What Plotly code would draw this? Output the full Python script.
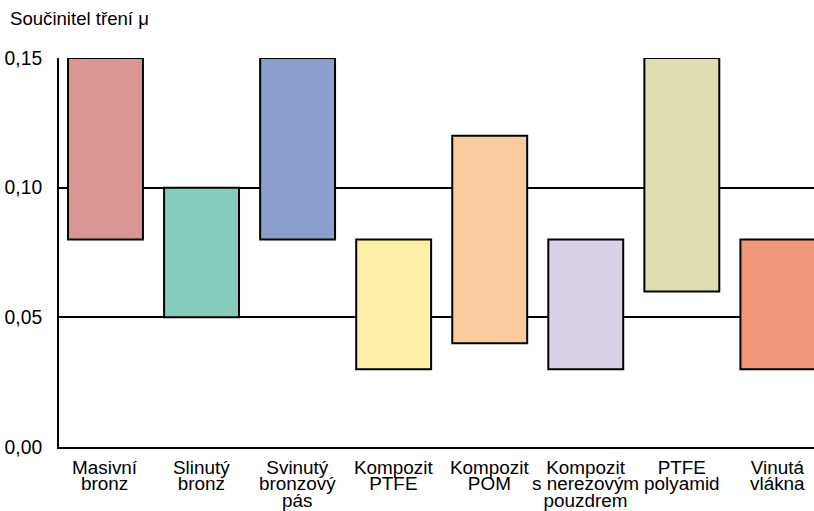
import plotly.graph_objects as go

categories = ["Masivní<br>bronz", "Slinutý<br>bronz", "Svinutý<br>bronzový<br>pás",
              "Kompozit<br>PTFE", "Kompozit<br>POM", "Kompozit<br>s nerezovým<br>pouzdrem",
              "PTFE<br>polyamid", "Vinutá<br>vlákna"]
low_values = [0.08, 0.05, 0.08, 0.03, 0.04, 0.03, 0.06, 0.03]
high_values = [0.15, 0.10, 0.15, 0.08, 0.12, 0.08, 0.15, 0.08]
colors = ["#D99593", "#86CCBD", "#8C9FCC", "#FDF0A6", "#F9CB9E", "#D9D1E6", "#E0DEB0", "#F0977A"]
tick_vals = [0.0, 0.05, 0.10, 0.15]
tick_text = ["0,00", "0,05", "0,10", "0,15"]

heights = [h - l for h, l in zip(high_values, low_values)]
xs = list(range(len(categories)))

fig = go.Figure(go.Bar(
    x=xs, y=heights, base=low_values,
    marker=dict(color=colors, line=dict(color="black", width=2)),
    width=0.78, hoverinfo="skip",
))

font = "Liberation Sans, Arial, sans-serif"
label_size = 18.9
annotations = [dict(text="Součinitel tření μ", xref="paper", yref="paper",
                    x=0, y=1, xanchor="left", yanchor="middle",
                    xshift=-51, yshift=40, showarrow=False,
                    font=dict(family=font, size=18.6, color="black"))]
for i, cat in enumerate(categories):
    text = "<br>".join(f"<span style='font-size:{label_size}px'>{ln}</span>"
                       for ln in cat.split("<br>"))
    annotations.append(dict(text=text, xref="x", yref="paper", x=i, y=0,
                            xanchor="center", yanchor="top",
                            yshift=-8, showarrow=False,
                            font=dict(family=font, size=12.6, color="black")))

fig.update_layout(
    width=814, height=511,
    margin=dict(l=59, r=0, t=58, b=64),
    paper_bgcolor="white", plot_bgcolor="white",
    showlegend=False,
    font=dict(family=font, size=18, color="black"),
    annotations=annotations,
)
fig.update_xaxes(
    range=[-0.484, 7.376], tickvals=xs, showticklabels=False,
    showline=True, linecolor="black", linewidth=2, mirror=False,
    showgrid=False, ticks="", zeroline=False,
)
fig.update_yaxes(
    range=[0, 0.15], tickvals=tick_vals, ticktext=tick_text,
    showline=True, linecolor="black", linewidth=2,
    showgrid=True, gridcolor="black", gridwidth=2,
    zeroline=False, ticks="", ticklabelstandoff=11,
    tickfont=dict(size=19.3),
)
fig.write_html("out.html", config={"displayModeBar": False},
               post_script="document.body.style.margin='0';document.body.style.overflow='hidden';")
